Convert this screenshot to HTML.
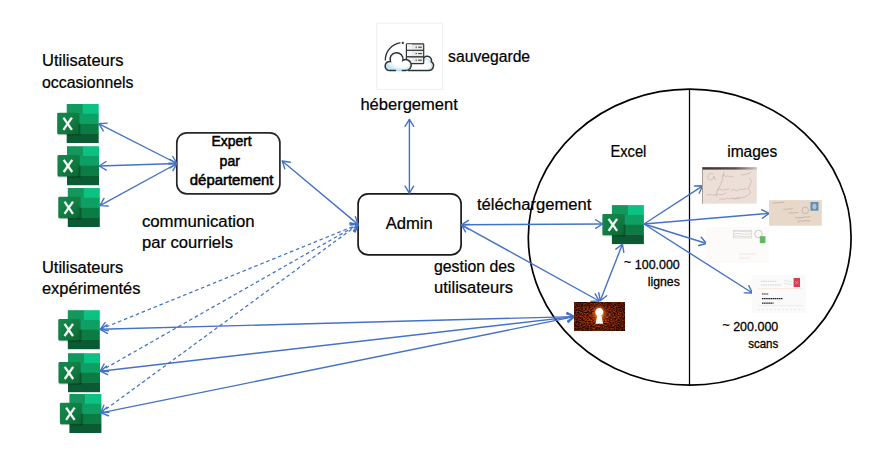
<!DOCTYPE html>
<html><head><meta charset="utf-8">
<style>
html,body{margin:0;padding:0;background:#fff;width:881px;height:452px;overflow:hidden}
svg{display:block}
text{font-family:"Liberation Sans",sans-serif;fill:#000;stroke:#000;stroke-width:0.22px}
</style></head>
<body>
<svg width="881" height="452" viewBox="0 0 881 452">
<defs>
  <linearGradient id="xg" x1="0" y1="0" x2="1" y2="1">
    <stop offset="0" stop-color="#13894e"/>
    <stop offset="0.5" stop-color="#117e43"/>
    <stop offset="1" stop-color="#0b6631"/>
  </linearGradient>
  <symbol id="xl" overflow="visible">
    <rect x="0" y="0" width="16.3" height="10.1" fill="#12985c"/>
    <rect x="16" y="0" width="16" height="10.1" fill="#0bc283"/>
    <rect x="0" y="9.75" width="32" height="10.1" fill="#0e9f64"/>
    <rect x="0" y="19.5" width="32" height="10.1" fill="#0b7c43"/>
    <rect x="0" y="29.25" width="32" height="9.75" fill="#0a5b34"/>
    <rect x="0" y="19.5" width="14" height="12" fill="#000" opacity="0.15"/>
    <rect x="-9.5" y="9" width="22.5" height="22.2" rx="1.4" fill="#000" opacity="0.18"/>
    <rect x="-9.5" y="8.8" width="21.2" height="21.4" rx="1.4" fill="url(#xg)"/>
    <g stroke="#f4f8f5" stroke-width="2.3" stroke-linecap="butt">
      <line x1="-3.3" y1="13.7" x2="5.2" y2="25.8"/>
      <line x1="5.2" y1="13.7" x2="-3.3" y2="25.8"/>
    </g>
  </symbol>
  <marker id="ah" viewBox="-10 -6 12 12" markerWidth="12" markerHeight="12" refX="0" refY="0" orient="auto-start-reverse" markerUnits="userSpaceOnUse">
    <path d="M-7,-4.3 L0,0 L-7,4.3" fill="none" stroke="#4472C4" stroke-width="1.4" stroke-linecap="round" stroke-linejoin="round"/>
  </marker>
  <radialGradient id="kg" cx="0.5" cy="0.5" r="0.5">
    <stop offset="0" stop-color="#ffd080" stop-opacity="1"/>
    <stop offset="0.4" stop-color="#f07a22" stop-opacity="0.85"/>
    <stop offset="1" stop-color="#8a3008" stop-opacity="0"/>
  </radialGradient>
  <radialGradient id="kv" cx="0.5" cy="0.5" r="0.6">
    <stop offset="0.3" stop-color="#1a0500" stop-opacity="0"/>
    <stop offset="1" stop-color="#1a0500" stop-opacity="0.45"/>
  </radialGradient>
  <linearGradient id="topband" x1="0" y1="0" x2="1" y2="0">
    <stop offset="0" stop-color="#3a322c"/>
    <stop offset="0.6" stop-color="#5a504a"/>
    <stop offset="1" stop-color="#cfc6c0"/>
  </linearGradient>
  <filter id="nz" x="0" y="0" width="100%" height="100%" filterUnits="objectBoundingBox" color-interpolation-filters="sRGB">
    <feTurbulence type="fractalNoise" baseFrequency="0.55 0.8" numOctaves="2" seed="7"/>
    <feColorMatrix type="matrix" values="1.6 0 0 0 -0.36  0.62 0 0 0 -0.18  0.12 0 0 0 -0.035  0 0 0 0 1"/>
  </filter>
  <radialGradient id="cg" cx="0.62" cy="0.42" r="0.62">
    <stop offset="0.55" stop-color="#ffffff"/>
    <stop offset="1" stop-color="#bfe4f6"/>
  </radialGradient>
</defs>

<!-- Excel icons -->
<use href="#xl" x="66.7" y="104"/>
<use href="#xl" x="67" y="146.2"/>
<use href="#xl" x="67.8" y="188"/>
<use href="#xl" x="67.8" y="310.2"/>
<use href="#xl" x="68" y="353.2"/>
<use href="#xl" x="69.4" y="394"/>
<use href="#xl" x="611.9" y="205.1"/>

<!-- Boxes -->
<rect x="176.8" y="132.8" width="103.1" height="61" rx="10" fill="#fff" stroke="#262626" stroke-width="1.7"/>
<rect x="358.1" y="193.8" width="103" height="61.1" rx="10" fill="#fff" stroke="#1a1a1a" stroke-width="1.7"/>

<!-- Ellipse -->
<ellipse cx="689.7" cy="237.2" rx="161.4" ry="148" fill="none" stroke="#000" stroke-width="1.7"/>
<line x1="689.5" y1="89" x2="689.5" y2="385.5" stroke="#000" stroke-width="1.25"/>

<!-- Solid arrows -->
<g stroke="#4472C4" stroke-width="1.4" fill="none" marker-start="url(#ah)" marker-end="url(#ah)">
  <line x1="99" y1="123.8" x2="177" y2="163.5"/>
  <line x1="99.2" y1="166" x2="177" y2="163.5"/>
  <line x1="99.9" y1="205.6" x2="177" y2="163.5"/>
  <line x1="282.2" y1="161" x2="358" y2="224.4"/>
  <line x1="409.4" y1="119.3" x2="409.4" y2="193.2"/>
  <line x1="461.5" y1="224.8" x2="602.6" y2="224"/>
  <line x1="461.5" y1="224.8" x2="599.2" y2="301"/>
  <line x1="622.4" y1="244.2" x2="600.2" y2="300.7"/>
  <line x1="100.2" y1="329.3" x2="574.4" y2="316.6"/>
  <line x1="100.2" y1="371.2" x2="574.4" y2="316.6"/>
  <line x1="100.8" y1="412.9" x2="574.4" y2="316.6"/>
</g>
<g stroke="#4472C4" stroke-width="1.4" fill="none" marker-end="url(#ah)">
  <line x1="644" y1="224" x2="702.7" y2="185.8"/>
  <line x1="644" y1="224" x2="769" y2="213.4"/>
  <line x1="644" y1="224" x2="706.6" y2="243.5"/>
  <line x1="644" y1="224" x2="752.4" y2="293"/>
</g>
<g stroke="#4472C4" stroke-width="1.25" fill="none" stroke-dasharray="3.6 2.8" marker-start="url(#ah)" marker-end="url(#ah)">
  <line x1="100.2" y1="329.3" x2="358.3" y2="224.4"/>
  <line x1="100.2" y1="371.2" x2="358.3" y2="224.4"/>
  <line x1="100.8" y1="412.9" x2="358.3" y2="224.4"/>
</g>

<!-- cloud icon -->
<rect x="376.8" y="23.2" width="65.6" height="66.2" fill="#fff" stroke="#efefef" stroke-width="1"/>
<path d="M385.3,59.9 A17.5,17.5 0 0 1 400,42.9" fill="none" stroke="#2d3436" stroke-width="1.3" stroke-linecap="round"/>
<circle cx="402.8" cy="42.9" r="1.15" fill="#2d3436"/>
<!-- back cloud -->
<path d="M422.9,60.5 A4.3,4.3 0 1 1 431.33,61.69 A4.8,4.8 0 0 1 428.7,70.5 L408,70.5 L408,58 Z" fill="#fff"/>
<path d="M424.3,60.8 A3,3 0 0 1 430,62.5 A3.6,3.6 0 0 1 428.2,69.3" fill="none" stroke="#c9e9f8" stroke-width="1.6"/>
<path d="M422.9,60.5 A4.3,4.3 0 1 1 431.33,61.69 A4.8,4.8 0 0 1 428.7,70.5 L408,70.5" fill="none" stroke="#2d3436" stroke-width="1.5"/>
<!-- server -->
<rect x="406.4" y="43.8" width="17.3" height="19.9" rx="0.8" fill="#e9e9e9" stroke="#2d3436" stroke-width="1.2"/>
<rect x="407" y="44.4" width="5" height="18.7" fill="#f4f4f4"/>
<line x1="406.4" y1="50.3" x2="423.7" y2="50.3" stroke="#2d3436" stroke-width="1.2"/>
<line x1="406.4" y1="56.8" x2="423.7" y2="56.8" stroke="#3d4446" stroke-width="1.5"/>
<g stroke="#2d3436" stroke-width="1">
  <line x1="415.6" y1="47.2" x2="416.8" y2="47.2"/><line x1="418.2" y1="47.2" x2="421.8" y2="47.2"/>
  <line x1="415.6" y1="53.6" x2="416.8" y2="53.6"/><line x1="418.2" y1="53.6" x2="421.8" y2="53.6"/>
  <line x1="415.6" y1="60.2" x2="416.8" y2="60.2"/><line x1="418.2" y1="60.2" x2="421.8" y2="60.2"/>
</g>
<!-- front cloud -->
<path d="M389.8,70.6 A4.6,4.6 0 1 1 390.4,61.45 A6.5,6.5 0 1 1 402.89,60.43 A5.5,5.5 0 1 1 405.8,70.6 Z" fill="url(#cg)"/>
<path d="M388.5,69.4 A3.4,3.4 0 0 1 386.8,64.5" fill="none" stroke="#c9e9f8" stroke-width="1.6"/>
<path d="M409.9,63.5 A4.3,4.3 0 0 1 406.5,69.4" fill="none" stroke="#c9e9f8" stroke-width="1.6"/>
<path d="M396,69.6 L401.5,69.6" stroke="#c9e9f8" stroke-width="2"/>
<path d="M396,70.6 L389.8,70.6 A4.6,4.6 0 1 1 390.4,61.45 A6.5,6.5 0 1 1 402.89,60.43 A5.5,5.5 0 1 1 405.8,70.6 L401.5,70.6" fill="none" stroke="#2d3436" stroke-width="1.5"/>
<path d="M396,70.6 L401.5,70.6" stroke="#a8dcf4" stroke-width="1.3"/>

<!-- keyhole image -->
<g>
<rect x="574" y="302" width="51" height="28.7" fill="#2a0c03"/>
<rect x="574" y="302" width="51" height="28.7" filter="url(#nz)"/>
<rect x="574" y="302" width="51" height="28.7" fill="url(#kv)"/>
<ellipse cx="599.3" cy="314" rx="9" ry="11" fill="url(#kg)"/>
<path d="M599.3,307.9 a4.1,4.1 0 0 1 2.0,7.6 l1.9,8.3 h-7.8 l1.9,-8.3 a4.1,4.1 0 0 1 2.0,-7.6 z" fill="#fffdf8"/>
</g>

<!-- letter images -->
<g>
<rect x="702" y="167.2" width="54.8" height="36.5" fill="#ecdfd8"/>
<rect x="702" y="167.2" width="54.8" height="2.4" fill="url(#topband)"/>
<rect x="702" y="167.2" width="0.8" height="36.5" fill="#9a8c84"/>
<g fill="none" stroke="#a07868" stroke-width="0.5" stroke-linecap="round" opacity="0.6">
  <path d="M741,175 q1,-2 2,0 q1,1 2,-1 q1,1 2,0 q1,-1 2,-0.5 q1,0 2,-1.5"/>
  <path d="M713,174 q-4,-2 -5,2 q-1,4 3,4 q3,-1 3,-4 q0,4 2,4"/>
  <path d="M724,172 q-1,10 -7,20 q-2,4 0,5"/>
  <path d="M722,176 q2,-2 3,0 q1,2 2,0 q1,-1 2,0.5 q1,1 2,-0.5 q1,1 2,1"/>
  <path d="M717,190 q3,-2 5,0 q2,1 4,-1 q2,1 3,0 M731,191 q2,-3 4,-1 q1,2 3,0 q2,0 3,-1 q2,1 4,0 q1,1 2,0"/>
  <path d="M707,195 q3,-1 5,0 q3,1 5,-1 q2,0 3,1 q3,0 6,-2"/>
  <path d="M749,178 q4,2 1,7 q-3,4 0,6 q2,3 -5,6 q-6,2 -12,2"/>
  <path d="M719,200 q2,-2 4,-1 q2,1 3,-1 q2,0 3,1 q2,-1 4,-1 q2,1 3,0 q2,0 4,-1"/>
</g>
<rect x="769" y="200.1" width="52.8" height="25.6" fill="#e8d8ca"/>
<rect x="810.5" y="202" width="7.9" height="8.7" fill="#5f8cb0"/>
<ellipse cx="814.4" cy="206.4" rx="2.1" ry="2.9" fill="#a9c3d8"/>
<circle cx="805.3" cy="210.4" r="3.3" fill="none" stroke="#a89a92" stroke-width="0.5"/>
<g fill="none" stroke="#9c8a80" stroke-width="0.5" stroke-linecap="round" opacity="0.9">
  <path d="M773,203 q1,-1 2,0 q2,0 3,-0.5 q2,0.5 3,0 q2,0 3,-0.5"/>
  <path d="M783.5,209.5 q1,-1.5 2,0 q2,0 3,-1 q1,1 2,0.5 q1,0 2,-0.5"/>
  <path d="M789,213 q2,-1 3,0 q2,0 3,-0.5 q2,0.5 3,0"/>
  <path d="M795,218 q1,-1.5 2,0 q2,0 3,-0.5 q2,0.5 3,0 q1,0 2,-1 q1,1 3,0.5 q1,0 2,-0.5"/>
  <path d="M798,222.5 q0,-2 2,-2 q2,1 3,0.5 q2,0 3,-0.5 q1,1 2,0.5 q1,-1 2,0"/>
</g>
<rect x="705.9" y="226.9" width="63.2" height="36" fill="#fcfbf9"/>
<g fill="none" stroke="#a8a8a4" stroke-width="0.6">
  <path d="M733.5,231.5 q4,-1 9,0 q5,1 9,-0.5 M733.5,234 q4,-1 9,0 q5,1 9,-0.5 M733.5,236.5 q4,-1 9,0 q5,1 9,-0.5" stroke="#b8b8b4" stroke-width="0.5"/><rect x="733.3" y="230.5" width="18.5" height="7.5" fill="none" stroke="#c8c8c4" stroke-width="0.5"/>
  <circle cx="758.5" cy="234" r="3.8"/>
</g>
<rect x="759.8" y="236.2" width="5.6" height="7" fill="#62b86a"/>
<g stroke="#e2d8cc" stroke-width="0.6">
  <line x1="739" y1="254" x2="756" y2="254"/><line x1="739" y1="258" x2="750" y2="258"/>
</g>
<rect x="752" y="274.8" width="53.9" height="38.2" fill="#fbfafa"/>
<rect x="793.6" y="278" width="6.4" height="9" fill="#dc3a50"/>
<g stroke="#f0a0aa" stroke-width="0.6"><line x1="795" y1="281" x2="798.5" y2="284"/><line x1="798.5" y1="281" x2="795" y2="284"/></g>
<g stroke="#bdbdbd" stroke-width="0.7" stroke-dasharray="1.5 0.8">
  <line x1="761" y1="281.3" x2="777" y2="281.3"/><line x1="761" y1="285" x2="781" y2="285"/>
</g>
<g fill="none" stroke="#cfcfcf" stroke-width="0.5">
  <path d="M784,281 q2,-2 4,0 t4,0 M784,284 q2,-2 4,0 t4,0"/>
</g>
<g stroke="#1e1e1e" stroke-width="1.2" stroke-dasharray="1.6 0.5">
  <line x1="762" y1="294" x2="768.5" y2="294"/>
  <line x1="762" y1="298.6" x2="783" y2="298.6"/>
  <line x1="762" y1="303.2" x2="773.5" y2="303.2"/>
</g>
<g stroke="#f2dcc0" stroke-width="0.5">
  <line x1="758" y1="288.6" x2="803" y2="288.6"/><line x1="758" y1="305.6" x2="803" y2="305.6"/>
</g>
<g stroke="#f0dcd0" stroke-width="0.6" stroke-dasharray="2 2">
  <line x1="758" y1="309.6" x2="803" y2="309.6"/>
</g>
</g>
</g>

<!-- Texts -->
<g font-size="16">
<text x="42" y="65.6" textLength="81.5" lengthAdjust="spacingAndGlyphs">Utilisateurs</text>
<text x="42" y="87.7" textLength="91.5" lengthAdjust="spacingAndGlyphs">occasionnels</text>
<text x="141.9" y="226.8" textLength="112.8" lengthAdjust="spacingAndGlyphs">communication</text>
<text x="142" y="247.9" textLength="91" lengthAdjust="spacingAndGlyphs">par courriels</text>
<text x="448.1" y="61.6" textLength="82" lengthAdjust="spacingAndGlyphs">sauvegarde</text>
<text x="360.4" y="110.1" textLength="97.4" lengthAdjust="spacingAndGlyphs">hébergement</text>
<text x="385.7" y="229.2" textLength="47" lengthAdjust="spacingAndGlyphs">Admin</text>
<text x="477" y="210.1" textLength="114.4" lengthAdjust="spacingAndGlyphs">téléchargement</text>
<text x="434" y="272.2" textLength="80.9" lengthAdjust="spacingAndGlyphs">gestion des</text>
<text x="434" y="293.1" textLength="79" lengthAdjust="spacingAndGlyphs">utilisateurs</text>
<text x="610.4" y="157" textLength="36" lengthAdjust="spacingAndGlyphs">Excel</text>
<text x="727.2" y="157" textLength="50.1" lengthAdjust="spacingAndGlyphs">images</text>
<text x="42" y="272.9" textLength="81.3" lengthAdjust="spacingAndGlyphs">Utilisateurs</text>
<text x="42" y="293.5" textLength="98.4" lengthAdjust="spacingAndGlyphs">expérimentés</text>
</g>
<g font-size="13">
<text font-size="14" style="stroke-width:0.5px" x="211.4" y="145.5" textLength="40.3" lengthAdjust="spacingAndGlyphs">Expert</text>
<text font-size="14" style="stroke-width:0.5px" x="219.6" y="165.7" textLength="20.4" lengthAdjust="spacingAndGlyphs">par</text>
<text font-size="14" style="stroke-width:0.5px" x="189.8" y="185" textLength="83.7" lengthAdjust="spacingAndGlyphs">département</text>
<text style="stroke-width:0.3px" x="624.1" y="268.6" textLength="55.7" lengthAdjust="spacingAndGlyphs"><tspan dy="-2.2">~</tspan><tspan dy="2.2"> 100.000</tspan></text>
<text style="stroke-width:0.3px" x="647.7" y="286.4" textLength="32.1" lengthAdjust="spacingAndGlyphs">lignes</text>
<text style="stroke-width:0.3px" x="722.4" y="331" textLength="55.9" lengthAdjust="spacingAndGlyphs"><tspan dy="-2.2">~</tspan><tspan dy="2.2"> 200.000</tspan></text>
<text style="stroke-width:0.3px" x="748.2" y="348.1" textLength="30.1" lengthAdjust="spacingAndGlyphs">scans</text>
</g>
</svg>
</body></html>
